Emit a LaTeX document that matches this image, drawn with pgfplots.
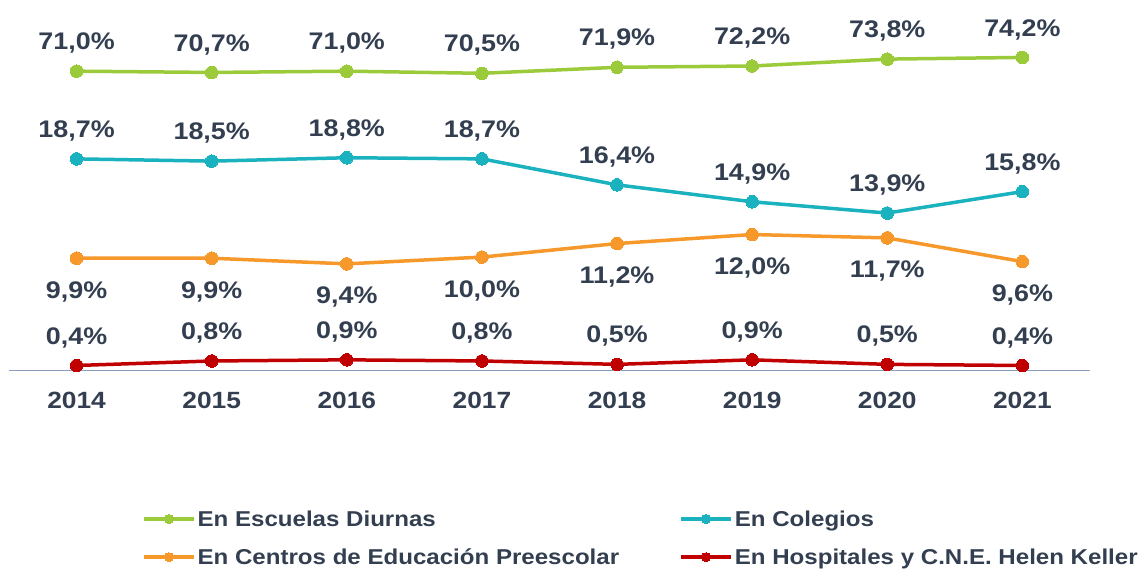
\documentclass[border=0pt]{standalone}
\usepackage{fontspec}
\setmainfont{Liberation Sans}[FakeStretch=1.12]
\usepackage{pgfplots}
\pgfplotsset{compat=1.18}
\definecolor{cgreen}{HTML}{9BCB3B}
\definecolor{ccyan}{HTML}{1AB2BE}
\definecolor{corange}{HTML}{F7982A}
\definecolor{cred}{HTML}{C00000}
\definecolor{ctext}{HTML}{333F50}
\definecolor{caxis}{HTML}{8C9CBC}
\pgfplotsset{
 ser/.style={color=#1, line width=3.5pt, mark=*, mark size=6.3pt, mark options={solid, line width=0pt, fill=#1}},
 lbl/.style={nodes near coords={\pgfmathprintnumber[fixed,fixed zerofill,precision=1,use comma,assume math mode=true]{\pgfplotspointmeta}\%},
   every node near coord/.append style={anchor=base, yshift=#1, font=\fontsize{24}{28}\selectfont\bfseries, text=ctext, inner sep=0pt}},
 base/.style={scale only axis, width=1081pt, height=350pt, xmin=-0.5, xmax=7.5, clip=false,
   legend image code/.code={\draw[##1, mark size=4.5pt, mark repeat=2, mark phase=2] plot coordinates {(0pt,0pt) (25pt,0pt) (50pt,0pt)};},
   legend cell align=left,
   legend style={anchor=north west, draw=none, fill=none, inner sep=0pt, row sep=17pt,
     font=\fontsize{21.5}{24}\selectfont\bfseries, text=ctext}},
}
\begin{document}
\begin{tikzpicture}
\path[use as bounding box] (-9pt,-198pt) rectangle (1129pt,370pt);
\begin{axis}[base, ymin=0, ymax=31,
  axis x line*=bottom, axis y line=none,
  x axis line style={draw=caxis, line width=1pt, -},
  xtick={0,1,2,3,4,5,6,7},
  xticklabels={2014,2015,2016,2017,2018,2019,2020,2021},
  major tick length=0pt, ytick=\empty,
  xticklabel style={anchor=center, yshift=-30pt, font=\fontsize{23.5}{26}\selectfont\bfseries, text=ctext},
  legend style={at={(axis description cs:0.1230,-0.395)}},
]
\addlegendimage{ser=cgreen}
\addlegendentry{En Escuelas Diurnas}
\addlegendimage{ser=corange}
\addlegendentry{En Centros de Educación Preescolar}
\addplot[ser=ccyan, lbl=21.4pt, forget plot] coordinates {(0,18.7) (1,18.5) (2,18.8) (3,18.7) (4,16.4) (5,14.9) (6,13.9) (7,15.8)};
\addplot[ser=corange, lbl=-40pt, forget plot] coordinates {(0,9.9) (1,9.9) (2,9.4) (3,10.0) (4,11.2) (5,12.0) (6,11.7) (7,9.6)};
\addplot[ser=cred, lbl=21.4pt, forget plot] coordinates {(0,0.4) (1,0.8) (2,0.9) (3,0.8) (4,0.5) (5,0.9) (6,0.5) (7,0.4)};
\end{axis}
\begin{axis}[base, ymin=1.5, ymax=82.9, hide axis,
  legend style={at={(axis description cs:0.6200,-0.395)}},
]
\addlegendimage{ser=ccyan}
\addlegendentry{En Colegios}
\addlegendimage{ser=cred}
\addlegendentry{En Hospitales y C.N.E. Helen Keller}
\addplot[ser=cgreen, lbl=21.4pt, forget plot] coordinates {(0,71.0) (1,70.7) (2,71.0) (3,70.5) (4,71.9) (5,72.2) (6,73.8) (7,74.2)};
\end{axis}
\end{tikzpicture}
\end{document}
